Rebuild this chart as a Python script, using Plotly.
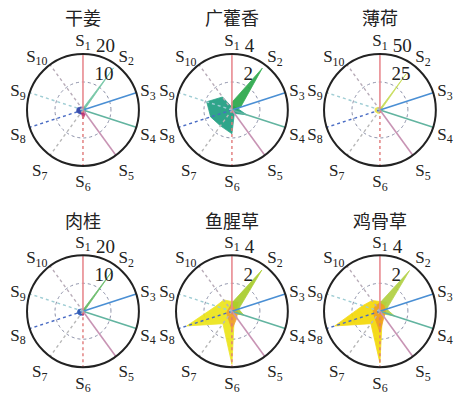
import plotly.graph_objects as go

# Sensor channels, clockwise from the top
sensor_labels = ["S<sub>1</sub>", "S<sub>2</sub>", "S<sub>3</sub>", "S<sub>4</sub>", "S<sub>5</sub>",
                 "S<sub>6</sub>", "S<sub>7</sub>", "S<sub>8</sub>", "S<sub>9</sub>", "S<sub>10</sub>"]
sensor_angles = [0, 36, 72, 108, 144, 180, 216, 252, 288, 324]

herbs = ["干姜", "广藿香", "薄荷", "肉桂", "鱼腥草", "鸡骨草"]
radial_max = [20, 4, 50, 20, 4, 4]

# Sensor responses of the samples of each herb
ganjiang_a = [1.0, 1.2, 0.9, 0.8, 1.0, 1.4, 1.8, 2.4, 2.2, 1.3]
ganjiang_b = [0.6, 18.6, 0.6, 0.4, 0.3, 0.3, 0.3, 0.3, 0.3, 0.3]
ganjiang_c = [0.4, 0.4, 0.4, 0.6, 1.6, 3.2, 1.0, 0.4, 0.3, 0.3]

guanghuo_a = [0.2, 0.3, 0.4, 1.1, 0.3, 1.7, 1.4, 1.6, 1.9, 1.15]
guanghuo_b = [0.55, 3.7, 0.65, 0.2, 0.1, 0.1, 0.1, 0.1, 0.1, 0.1]

bohe_a = [2.0, 3.0, 2.0, 2.0, 2.0, 3.0, 3.5, 4.5, 4.5, 3.0]
bohe_b = [1.0, 40.0, 1.2, 0.5, 0.5, 0.5, 0.5, 0.5, 0.5, 0.5]

rougui_a = [0.8, 1.0, 0.8, 0.8, 0.9, 1.3, 1.8, 2.2, 1.8, 1.0]
rougui_b = [0.5, 17.8, 0.6, 0.4, 0.3, 0.3, 0.3, 0.3, 0.3, 0.3]
rougui_c = [0.3, 0.3, 0.3, 0.4, 0.8, 1.6, 0.6, 0.3, 0.3, 0.3]

yuxing_a = [0.7, 0.8, 0.3, 0.6, 0.3, 3.8, 1.1, 3.4, 1.2, 1.0]
yuxing_b = [0.6, 3.65, 0.5, 0.9, 0.2, 0.2, 0.2, 0.2, 0.2, 0.3]
yuxing_c = [0.4, 0.3, 0.3, 0.4, 0.6, 1.3, 0.5, 0.4, 0.3, 0.3]

jigu_a = [0.7, 0.8, 0.3, 0.5, 0.3, 3.7, 1.1, 3.4, 1.3, 0.95]
jigu_b = [0.6, 3.6, 0.5, 1.1, 0.2, 0.2, 0.2, 0.2, 0.2, 0.3]
jigu_c = [0.6, 0.5, 0.4, 0.4, 0.5, 1.5, 0.6, 0.5, 0.5, 0.5]

samples = [
    [(ganjiang_a, "#2b3fa6"), (ganjiang_b, "#6cc3a0"), (ganjiang_c, "#c2306e")],
    [(guanghuo_a, "#1e9e80"), (guanghuo_b, "#2ba84a")],
    [(bohe_a, "#e6e040"), (bohe_b, "#c4da4e")],
    [(rougui_a, "#2050b0"), (rougui_b, "#62b862"), (rougui_c, "#c2306e")],
    [(yuxing_a, "#ece41a"), (yuxing_b, "#a8cc2c"), (yuxing_c, "#f0a030")],
    [(jigu_a, "#f4d808"), (jigu_b, "#b0d040"), (jigu_c, "#f0a020")],
]

# Colour and dash of the line drawn along each sensor direction (S2 has none)
spoke_colors = ["#e88a90", None, "#4a8fd4", "#62b4a0", "#c894b4",
                "#e07878", "#b8b8b8", "#4a6cc4", "#9fcdd4", "#b8acb8"]
spoke_dash = ["solid"] * 5 + ["dot"] * 5

# Plot area of each panel (paper fractions)
col_x = [(0.0595, 0.306), (0.3877, 0.634), (0.7137, 0.960)]
row_y = [(0.5787, 0.863), (0.068, 0.352)]
title_y = [0.957, 0.441]

serif = "Liberation Serif, Times New Roman, serif"
cjk = "Noto Sans CJK SC, sans-serif"

fig = go.Figure()
annotations = []

for k, herb in enumerate(herbs):
    sub = "polar" if k == 0 else f"polar{k + 1}"
    rmax = radial_max[k]
    for vals, color in samples[k]:
        fig.add_trace(go.Scatterpolar(
            r=vals + vals[:1], theta=sensor_angles + sensor_angles[:1],
            mode="lines", fill="toself", fillcolor=color, opacity=0.92,
            line=dict(color=color, width=0.8), subplot=sub, showlegend=False,
            hoverinfo="skip"))
    for ang, col, dash in zip(sensor_angles, spoke_colors, spoke_dash):
        if col is None:
            continue
        fig.add_trace(go.Scatterpolar(
            r=[0, rmax], theta=[ang, ang], mode="lines",
            line=dict(color=col, width=1.6 if dash == "solid" else 1.4, dash=dash),
            subplot=sub, showlegend=False, hoverinfo="skip"))

    cx = col_x[k % 3]
    ry = row_y[k // 3]
    # radial labels sit just above their ring, to the right of the S1 line
    fig.update_layout({sub: dict(
        domain=dict(x=list(cx), y=list(ry)),
        bgcolor="white",
        radialaxis=dict(range=[0, rmax], tickvals=[rmax / 2, rmax],
                        ticktext=[f"{rmax / 2:g}<br> ", f"{rmax:g}<br> "],
                        showline=False, showgrid=True, gridcolor="#8c90a8",
                        griddash="dot", gridwidth=1, ticks="", angle=87,
                        tickangle=87, side="clockwise",
                        tickfont=dict(family=serif, size=19, color="#222")),
        angularaxis=dict(rotation=90, direction="clockwise",
                         tickmode="array", tickvals=sensor_angles, ticktext=sensor_labels,
                         showline=True, linecolor="#222", linewidth=2,
                         showgrid=False, ticks="",
                         tickfont=dict(family=serif, size=17, color="#222")),
    )})
    annotations.append(dict(
        text=herb, x=(cx[0] + cx[1]) / 2, y=title_y[k // 3], xref="paper", yref="paper",
        xanchor="center", yanchor="middle",
        showarrow=False, font=dict(family=cjk, size=18, color="#222")))

fig.update_layout(width=454, height=394, margin=dict(l=0, r=0, t=0, b=0),
                  paper_bgcolor="white", plot_bgcolor="white",
                  annotations=annotations, showlegend=False)

fig.write_html("out.html")
